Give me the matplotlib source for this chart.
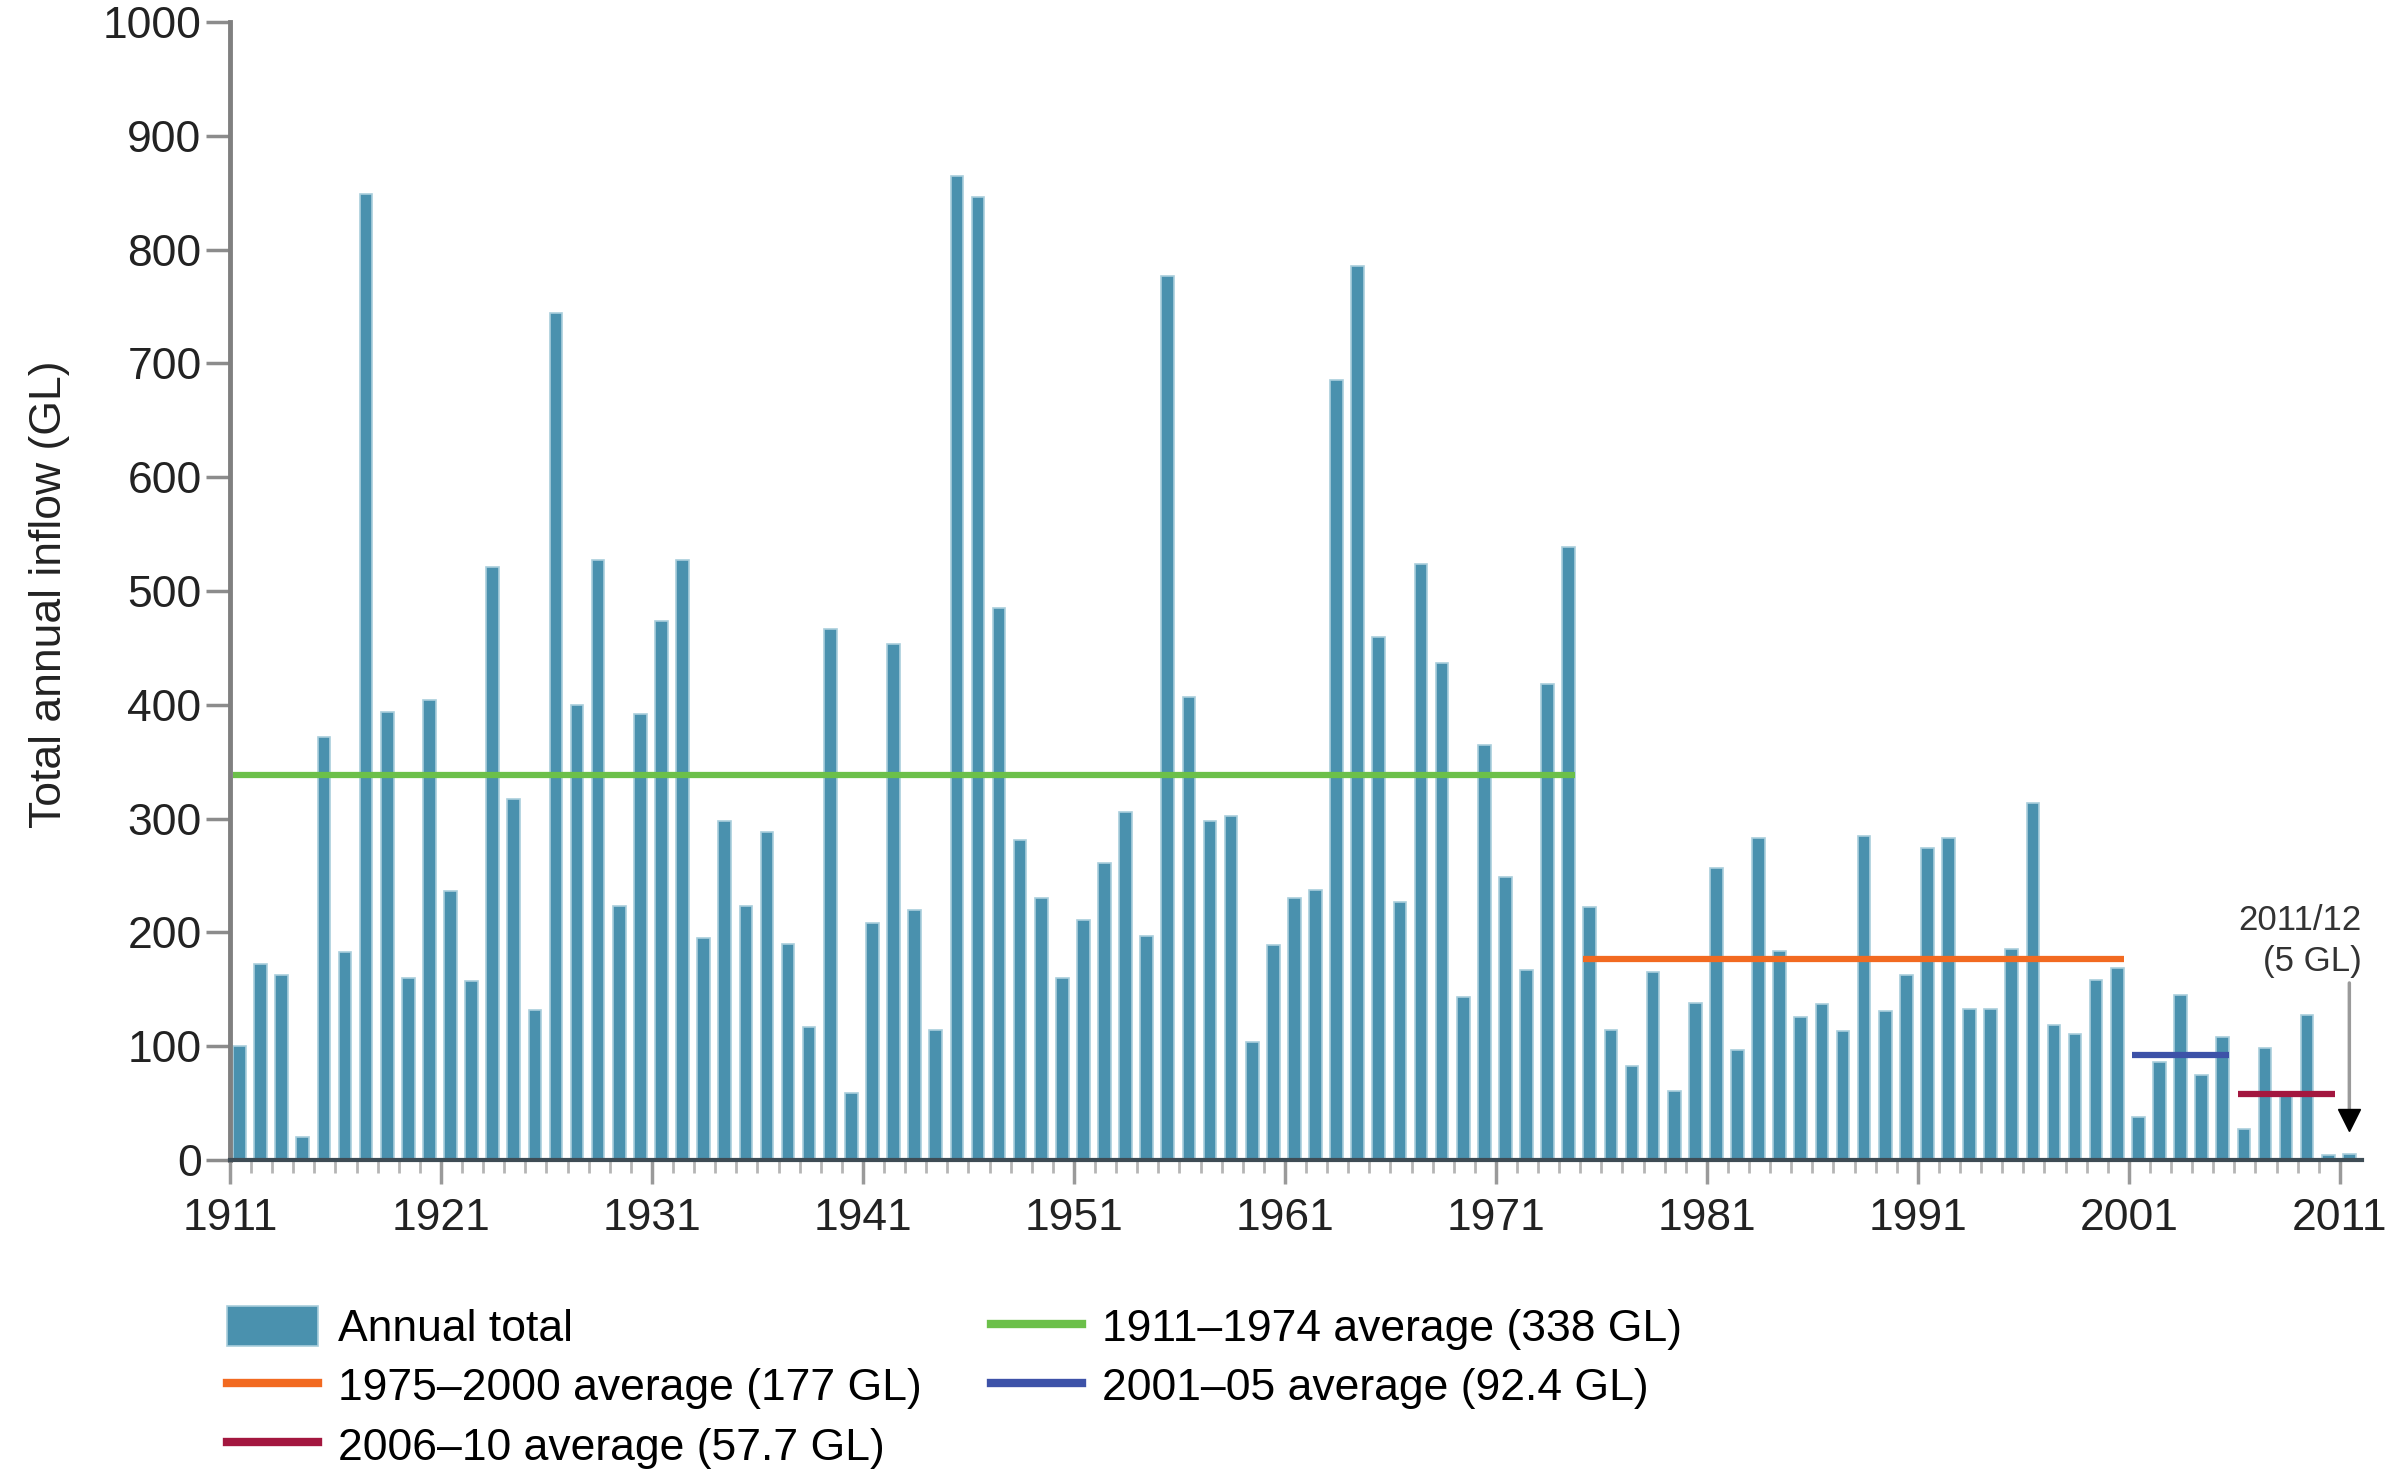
import numpy as np
import matplotlib.pyplot as plt
from matplotlib.lines import Line2D
from matplotlib.patches import Patch

plt.rcParams['font.family'] = ['Liberation Sans', 'DejaVu Sans']

# 数据：每年的总入流量 (GL)
years = list(range(1911, 2012))
inflow = [100, 172, 163, 20, 372, 183, 849, 394, 160, 404,
          236, 157, 521, 317, 132, 744, 400, 527, 223, 392,
          474, 527, 195, 298, 223, 288, 190, 117, 467, 59,
          208, 453, 220, 114, 865, 846, 485, 281, 230, 160,
          211, 261, 306, 197, 777, 407, 298, 302, 104, 189,
          230, 237, 685, 786, 460, 227, 524, 437, 143, 365,
          249, 167, 418, 539, 222, 114, 83, 165, 61, 138,
          257, 97, 283, 184, 126, 137, 113, 285, 131, 163,
          274, 283, 133, 133, 185, 314, 119, 111, 158, 169,
          38, 86, 145, 75, 108, 27, 98, 60, 127, 4,
          5]

# 各时期平均值
avg_start = [1911, 1975, 2001, 2006]
avg_end = [1974, 2000, 2005, 2010]
avg_value = [338, 177, 92.4, 57.7]
avg_labels = ['1911–1974 average (338 GL)', '1975–2000 average (177 GL)',
              '2001–05 average (92.4 GL)', '2006–10 average (57.7 GL)']
avg_colors = ['#6cc04a', '#f26a21', '#3d52a8', '#a3173f']

year_ticks = list(range(1911, 2012, 10))
y_ticks = list(range(0, 1001, 100))

bar_color = '#4a91ae'
off = 0.45   # 柱子相对年份的偏移
w = 0.6      # 柱宽

fig = plt.figure(figsize=(23.88, 14.74), dpi=100)
ax = fig.add_axes([230/2388, 1-1160/1474, (2362-230)/2388, (1160-22)/1474])

x = np.array(years) + off
ax.bar(x, inflow, width=w, color=bar_color, edgecolor='#a9cedc', linewidth=1.2, zorder=2)

# 平均线
for s, e, v, c in zip(avg_start, avg_end, avg_value, avg_colors):
    ax.plot([s + off - w/2, e + off + w/2], [v, v], color=c, lw=4.5,
            solid_capstyle='butt', zorder=3)

# 2011/12 标注
last_x = years[-1] + off
ax.annotate('', xy=(last_x, inflow[-1] + 28), xytext=(last_x, 158),
            arrowprops=dict(arrowstyle='-', color='#9a9a9a', lw=2.5), zorder=4)
ax.plot([last_x], [inflow[-1] + 30], marker='v', color='black', markersize=16, zorder=5)
ax.text(2012.05, 160, f'{years[-1]}/{str(years[-1] + 1)[2:]}\n({inflow[-1]} GL)',
        ha='right', va='bottom', multialignment='right', fontsize=25,
        color='#333333', linespacing=1.3)

ax.set_xlim(1911, 2012.05)
ax.set_ylim(0, 1000)

ax.set_xticks(year_ticks)
ax.set_xticklabels([str(y) for y in year_ticks])
ax.set_xticks(years, minor=True)
ax.set_yticks(y_ticks)

ax.tick_params(axis='y', length=17, width=2.5, color='#8c8c8c', pad=3.5,
               labelsize=32, labelcolor='#222222')
ax.tick_params(axis='x', which='major', length=17, width=2.5, color='#9a9a9a',
               pad=10.5, labelsize=32, labelcolor='#222222')
ax.tick_params(axis='x', which='minor', length=9, width=2, color='#b5b5b5')

for side in ['top', 'right']:
    ax.spines[side].set_visible(False)
ax.spines['left'].set_color('#808080')
ax.spines['left'].set_linewidth(3.5)
ax.spines['bottom'].set_color('#3e4c55')
ax.spines['bottom'].set_linewidth(3)

fig.text(50/2388, 1-594/1474, 'Total annual inflow (GL)', rotation=90,
         ha='center', va='center', fontsize=32, color='#222222')

# 图例
h_bar = Patch(facecolor=bar_color, edgecolor='#a9cedc', linewidth=1.2)
h_lines = [Line2D([0], [0], color=c, lw=6) for c in avg_colors]
handles = [h_bar, h_lines[1], h_lines[3], h_lines[0], h_lines[2]]
labels = ['Annual total', avg_labels[1], avg_labels[3], avg_labels[0], avg_labels[2]]
fig.legend(handles, labels, loc='upper left', bbox_to_anchor=(227/2388, 1-1306/1474),
           ncol=2, frameon=False, fontsize=32, handlelength=2.05, handleheight=1.0,
           handletextpad=0.45, columnspacing=1.55, labelspacing=0.34,
           borderpad=0, borderaxespad=0)

fig.savefig('out.png', dpi=100)
